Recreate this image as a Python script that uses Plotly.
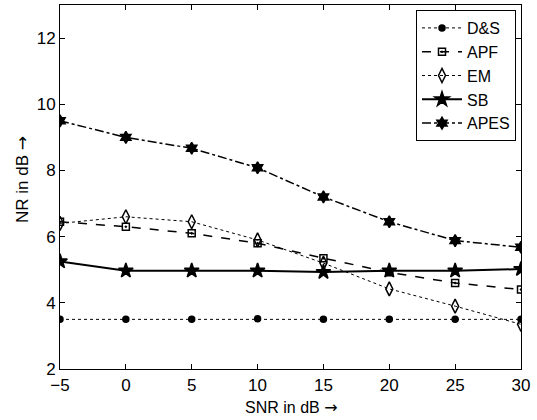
import plotly.graph_objects as go

snr = [-5, 0, 5, 10, 15, 20, 25, 30]
ds = [3.5, 3.5, 3.5, 3.52, 3.5, 3.5, 3.5, 3.5]
apf = [6.45, 6.3, 6.1, 5.8, 5.35, 4.92, 4.6, 4.4]
em = [6.4, 6.6, 6.45, 5.9, 5.2, 4.42, 3.9, 3.35]
sb = [5.25, 4.97, 4.97, 4.97, 4.93, 4.97, 4.97, 5.02]
apes = [9.5, 9.0, 8.67, 8.08, 7.2, 6.45, 5.88, 5.68]

x_ticks = [-5, 0, 5, 10, 15, 20, 25, 30]
x_labels = ["\u22125", "0", "5", "10", "15", "20", "25", "30"]
y_ticks = [2, 4, 6, 8, 10, 12]

# name, values, dash, marker, size, line width
series = [
    ("D&S", ds, "dot", "circle", 6, 1.0),
    ("APF", apf, "dash", "square-open-dot", 7, 1.5),
    ("EM", em, "dot", "diamond-tall-open", 10, 1.0),
    ("SB", sb, "solid", "star", 11, 2.0),
    ("APES", apes, "dashdot", "hexagram", 9, 1.5),
]

fig = go.Figure()
for name, y, dash, sym, size, lw in series:
    fig.add_trace(go.Scatter(
        x=snr, y=y, name=name, mode="lines+markers",
        line=dict(color="black", width=lw, dash=dash),
        marker=dict(symbol=sym, size=size, color="black",
                    line=dict(color="black", width=1.5)),
    ))

axis = dict(
    showgrid=False, zeroline=False, showline=True, linecolor="black",
    linewidth=1, mirror="ticks", ticks="inside", ticklen=5,
    tickcolor="black", tickfont=dict(size=17, color="black"),
    automargin=False,
)

arrow = "<span style='font-family:DejaVu Sans'>\u2192</span>"

W, H = 537, 420
L, R, T, B = 60, 16, 5, 51


def px_to_paper(px, py):
    return (px - L) / (W - L - R), (H - B - py) / (H - T - B)


xt_x, xt_y = px_to_paper(291, 407)
yt_x, yt_y = px_to_paper(22, 180)
lg_x, lg_y = px_to_paper(516, 10)

fig.update_layout(
    width=W, height=H,
    paper_bgcolor="white", plot_bgcolor="white",
    font=dict(family="Liberation Sans, Arial, sans-serif", color="black"),
    margin=dict(l=L, r=R, t=T, b=B),
    xaxis=dict(axis, range=[-5, 30], tickvals=x_ticks, ticktext=x_labels,
               ticklabelstandoff=1),
    yaxis=dict(axis, range=[2, 13], tickvals=y_ticks),
    legend=dict(
        x=lg_x, y=lg_y, xanchor="right", yanchor="top",
        bgcolor="white", bordercolor="black", borderwidth=1,
        font=dict(size=16), tracegroupgap=0, itemwidth=40,
    ),
    showlegend=True,
    annotations=[
        dict(text="SNR in dB " + arrow, x=xt_x, y=xt_y, xref="paper", yref="paper",
             xanchor="center", yanchor="middle", showarrow=False, font=dict(size=16)),
        dict(text="NR in dB " + arrow, x=yt_x, y=yt_y, xref="paper", yref="paper",
             xanchor="center", yanchor="middle", textangle=-90, showarrow=False,
             font=dict(size=17)),
    ],
)

fig.write_html("out.html", config={"displayModeBar": False},
               post_script="document.body.style.margin='0';")
